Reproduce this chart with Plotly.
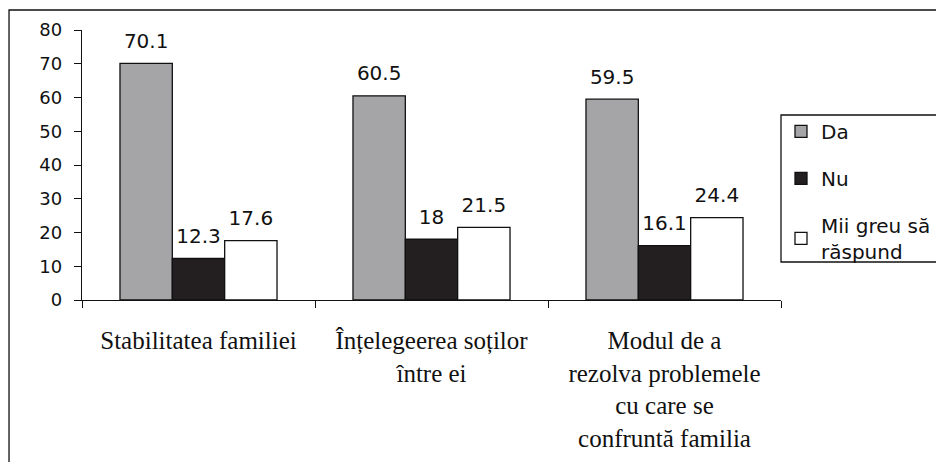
import plotly.graph_objects as go

categories = [
    "Stabilitatea familiei",
    "Înțelegeerea soților<br>între ei",
    "Modul de a<br>rezolva problemele<br>cu care se<br>confruntă familia",
]
series_names = ["Da", "Nu", "Mii greu să<br>răspund"]
da_values = [70.1, 60.5, 59.5]
nu_values = [12.3, 18, 16.1]
greu_values = [17.6, 21.5, 24.4]
series_values = [da_values, nu_values, greu_values]
series_colors = ["#a5a5a8", "#231f20", "#ffffff"]
y_ticks = [0, 10, 20, 30, 40, 50, 60, 70, 80]

fig = go.Figure()
for i, (name, vals, col) in enumerate(zip(series_names, series_values, series_colors)):
    fig.add_trace(go.Bar(
        x=categories, y=vals, name=name, legendgroup=f"g{i}",
        marker=dict(color=col, line=dict(color="#111111", width=1.3)),
        text=vals,
        texttemplate="<span style='font-size:20px'>%{y}</span><br>\u00a0",
        textposition="outside", cliponaxis=False, constraintext="none",
        textfont=dict(family="DejaVu Sans", size=8, color="#111111"),
    ))

# page body adds an 8px offset, so the figure is 8px smaller than the window
fig.update_layout(
    width=936, height=454,
    margin=dict(l=74, r=163, t=22, b=162, autoexpand=False),
    paper_bgcolor="white", plot_bgcolor="white",
    barmode="group", bargap=0.326, bargroupgap=0,
    font=dict(family="DejaVu Sans", color="#111111"),
    showlegend=True,
    legend=dict(x=1.0, xanchor="left", y=0.697, yanchor="top",
                bgcolor="rgba(0,0,0,0)", borderwidth=0,
                font=dict(family="DejaVu Sans", size=20, color="#111111"),
                tracegroupgap=18, traceorder="grouped"),
    xaxis=dict(showline=True, linecolor="#111111", linewidth=1.3,
               ticks="outside", tickson="boundaries", ticklen=7, tickcolor="#111111",
               tickwidth=1.3, showgrid=False, ticklabelstandoff=18,
               tickfont=dict(family="Liberation Serif", size=25, color="#111111")),
    yaxis=dict(range=[0, 80], tickvals=y_ticks, showline=True, linecolor="#111111",
               linewidth=1.3, ticks="outside", ticklen=7, tickcolor="#111111",
               tickwidth=1.3, showgrid=False, zeroline=False,
               ticklabelstandoff=8,
               tickfont=dict(family="DejaVu Sans", size=18, color="#111111")),
    shapes=[
        dict(type="rect", xref="paper", yref="paper",
             x0=-0.1044, x1=1.2418, y0=-0.6296, y1=1.0741,
             line=dict(color="#111111", width=1.3), fillcolor="rgba(0,0,0,0)"),
        dict(type="rect", xref="paper", yref="paper",
             x0=1.0, x1=1.25, y0=0.1407, y1=0.6852,
             line=dict(color="#111111", width=1.3), fillcolor="rgba(0,0,0,0)"),
    ],
)

fig.write_html("out.html")
